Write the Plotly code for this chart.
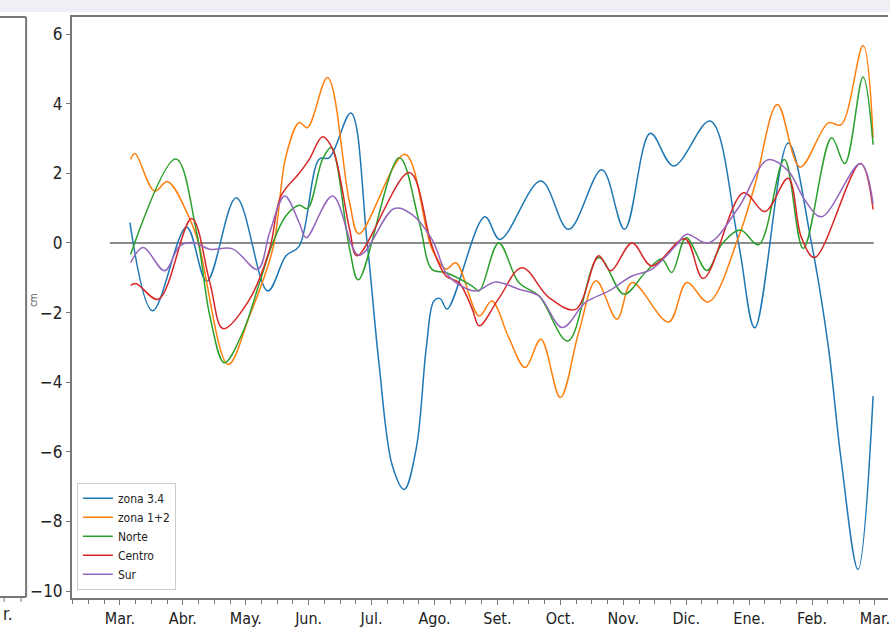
import plotly.graph_objects as go

# Month positions: 0 = Mar., 1 = Abr., ... 12 = Mar. (following year)
month_labels = ["Mar.", "Abr.", "May.", "Jun.", "Jul.", "Ago.", "Set.", "Oct.",
                "Nov.", "Dic.", "Ene.", "Feb.", "Mar."]
y_ticks = [-10, -8, -6, -4, -2, 0, 2, 4, 6]

zona34_x = [0.16, 0.52, 1.06, 1.38, 1.85, 2.35, 2.64, 2.85, 3.17, 3.33, 3.67, 3.93, 4.12,
            4.33, 4.52, 4.71, 4.87, 4.99, 5.09, 5.20, 5.80, 6.04, 6.69, 7.13, 7.66, 8.02,
            8.43, 8.80, 9.38, 9.83, 10.09, 10.62, 10.99, 11.26, 11.46, 11.73, 11.97]
zona34_y = [0.58, -1.95, 0.45, -1.1, 1.30, -1.38, -0.37, -0.09, 2.41, 2.45, 3.73, 0.0, -3.5,
            -6.4, -7.08, -5.9, -3.0, -1.67, -1.6, -1.9, 0.75, 0.1, 1.78, 0.39, 2.1, 0.39,
            3.15, 2.21, 3.5, 0.0, -2.44, 2.87, 0.0, -3.0, -6.2, -9.38, -4.4]

zona12_x = [0.17, 0.24, 0.55, 0.76, 1.11, 1.25, 1.72, 2.06, 2.43, 2.64, 2.85, 2.98, 3.30,
            3.65, 3.80, 4.53, 4.96, 5.18, 5.34, 5.71, 5.91, 6.18, 6.44, 6.69, 7.00, 7.29,
            7.57, 7.90, 8.14, 8.72, 9.01, 9.35, 9.83, 10.09, 10.45, 10.81, 11.26, 11.46,
            11.81, 11.97]
zona12_y = [2.4, 2.57, 1.49, 1.76, 0.69, 0.0, -3.49, -2.1, -0.17, 2.5, 3.46, 3.31, 4.75,
            1.16, 0.26, 2.55, -0.17, -0.75, -0.57, -2.1, -1.67, -2.72, -3.58, -2.77, -4.44,
            -2.58, -1.09, -2.19, -1.14, -2.27, -1.14, -1.70, 0.16, 1.65, 3.98, 2.18, 3.45,
            3.39, 5.67, 3.02]

norte_x = [0.17, 0.89, 1.22, 1.43, 1.66, 1.95, 2.22, 2.43, 2.64, 2.85, 2.98, 3.22, 3.36,
           3.65, 3.79, 4.44, 4.76, 4.96, 5.18, 5.60, 5.71, 6.02, 6.34, 6.66, 7.12, 7.61,
           8.01, 8.35, 8.61, 8.77, 9.00, 9.33, 9.56, 9.86, 10.15, 10.56, 10.86, 11.31,
           11.52, 11.81, 11.97]
norte_y = [-0.33, 2.41, 0.3, -2.1, -3.44, -2.58, -1.14, 0.0, 0.78, 1.08, 0.99, 2.4, 2.74,
           -0.17, -1.06, 2.45, 0.58, -0.76, -0.85, -1.24, -1.38, 0.0, -1.14, -1.52, -2.82,
           -0.42, -1.47, -0.85, -0.46, -0.85, 0.15, -0.79, -0.05, 0.37, -0.05, 2.4, -0.16,
           3.02, 2.28, 4.77, 2.82]

centro_x = [0.17, 0.26, 0.61, 1.14, 1.43, 1.64, 2.06, 2.38, 2.56, 2.85, 3.01, 3.22, 3.38,
            3.65, 3.77, 4.60, 4.96, 5.18, 5.39, 5.60, 5.71, 6.02, 6.39, 6.82, 7.24, 7.61,
            7.80, 8.14, 8.45, 8.98, 9.27, 9.91, 10.25, 10.62, 10.83, 11.04, 11.77, 11.97]
centro_y = [-1.22, -1.17, -1.62, 0.70, -1.14, -2.46, -1.62, -0.18, 1.35, 2.0, 2.4, 3.05, 2.7,
            0.4, -0.37, 2.02, -0.09, -0.95, -1.14, -1.9, -2.38, -1.6, -0.71, -1.57, -1.91,
            -0.37, -0.80, 0.0, -0.66, 0.12, -1.02, 1.44, 0.9, 1.86, 0.16, -0.42, 2.28, 0.96]

sur_x = [0.17, 0.37, 0.71, 0.95, 1.16, 1.43, 1.79, 2.19, 2.38, 2.62, 2.85, 2.96, 3.38,
         3.80, 4.36, 4.64, 4.96, 5.18, 5.34, 5.65, 5.97, 6.34, 6.66, 7.03, 7.40, 7.77,
         8.14, 8.45, 8.83, 9.01, 9.35, 9.83, 10.30, 10.62, 10.89, 11.15, 11.77, 11.97]
sur_y = [-0.57, -0.13, -0.8, -0.09, 0.01, -0.18, -0.17, -0.76, 0.3, 1.35, 0.58, 0.15, 1.35,
         -0.35, 0.99, 0.82, 0.1, -0.85, -1.14, -1.38, -1.12, -1.33, -1.52, -2.43, -1.71,
         -1.38, -0.95, -0.76, -0.09, 0.25, 0.0, 1.01, 2.39, 2.07, 1.22, 0.75, 2.28, 1.12]

zero_x = [-0.16, 11.98]
zero_y = [0, 0]

series = [
    ("zona 3.4", zona34_x, zona34_y, "#1f77b4"),
    ("zona 1+2", zona12_x, zona12_y, "#ff7f0e"),
    ("Norte", norte_x, norte_y, "#2ca02c"),
    ("Centro", centro_x, centro_y, "#d62728"),
    ("Sur", sur_x, sur_y, "#9467bd"),
]

FONT = "Liberation Sans Narrow, DejaVu Sans Condensed, Arial Narrow, DejaVu Sans, sans-serif"
AX = "#777777"

fig = go.Figure()
fig.add_trace(go.Scatter(x=zero_x, y=zero_y, mode="lines",
                         line=dict(color="#8c8c8c", width=2), showlegend=False,
                         hoverinfo="skip"))
for name, xs, ys, col in series:
    fig.add_trace(go.Scatter(x=xs, y=ys, mode="lines", name=name,
                             line=dict(color=col, width=1.5, shape="spline", smoothing=1.0)))

W, H = 890, 630
L, R, T, B = 72, 0, 17, 32
pw, ph = W - L - R, H - T - B

def px_x(p):
    return (p - L) / pw

def px_y(p):
    return (H - B - p) / ph

shapes = [
    # top grey band of the page
    dict(type="rect", xref="paper", yref="paper", x0=px_x(-5), x1=px_x(895),
         y0=px_y(12), y1=px_y(-5), fillcolor="#eef0f6", line=dict(width=0), layer="below"),
    # left (cropped) panel frame
    dict(type="line", xref="paper", yref="paper", x0=px_x(-5), x1=px_x(26),
         y0=px_y(17), y1=px_y(17), line=dict(color=AX, width=2)),
    dict(type="line", xref="paper", yref="paper", x0=px_x(26), x1=px_x(26),
         y0=px_y(17), y1=px_y(597), line=dict(color=AX, width=2)),
    dict(type="line", xref="paper", yref="paper", x0=px_x(-5), x1=px_x(26),
         y0=px_y(597), y1=px_y(597), line=dict(color=AX, width=2)),
    dict(type="line", xref="paper", yref="paper", x0=px_x(4), x1=px_x(4),
         y0=px_y(597), y1=px_y(602), line=dict(color=AX, width=1)),
    dict(type="line", xref="paper", yref="paper", x0=px_x(21), x1=px_x(21),
         y0=px_y(597), y1=px_y(602), line=dict(color=AX, width=1)),
]

annotations = [
    dict(text="cm", xref="paper", yref="paper", x=px_x(33), y=px_y(300), textangle=-90,
         showarrow=False, font=dict(family=FONT, size=10, color="#555"),
         xanchor="center", yanchor="middle"),
    # visible tail of the cropped left panel's last tick label
    dict(text="r.", xref="paper", yref="paper", x=px_x(1), y=px_y(602),
         showarrow=False, font=dict(family=FONT, size=17, color="#222"),
         xanchor="left", yanchor="top"),
]

fig.update_layout(
    width=W, height=H,
    margin=dict(l=L, r=R, t=T, b=B),
    paper_bgcolor="white", plot_bgcolor="white",
    shapes=shapes, annotations=annotations,
    font=dict(family=FONT, size=17, color="#222"),
    showlegend=True,
    legend=dict(x=0.006, y=0.014, xanchor="left", yanchor="bottom",
                bgcolor="white", bordercolor="#cccccc", borderwidth=1,
                font=dict(family=FONT, size=12, color="#222"),
                itemwidth=30, tracegroupgap=2),
    xaxis=dict(range=[-0.761, 12.207], tickmode="array",
               tickvals=list(range(len(month_labels))), ticktext=month_labels,
               ticklabeloverflow="allow",
               showgrid=False, zeroline=False, showline=True, mirror=True,
               linecolor=AX, linewidth=2, ticks="outside", ticklen=5, tickcolor=AX,
               tickfont=dict(family=FONT, size=16, color="#222"),
               minor=dict(dtick=0.25, tick0=0, ticks="outside", ticklen=4,
                          tickcolor=AX, showgrid=False)),
    yaxis=dict(range=[-10.2, 6.49], tickvals=y_ticks, showgrid=False, zeroline=False,
               showline=True, linecolor=AX, linewidth=2, ticks="outside", ticklen=4,
               tickcolor=AX, tickfont=dict(family=FONT, size=17, color="#222")),
)

fig.write_html("out.html")
